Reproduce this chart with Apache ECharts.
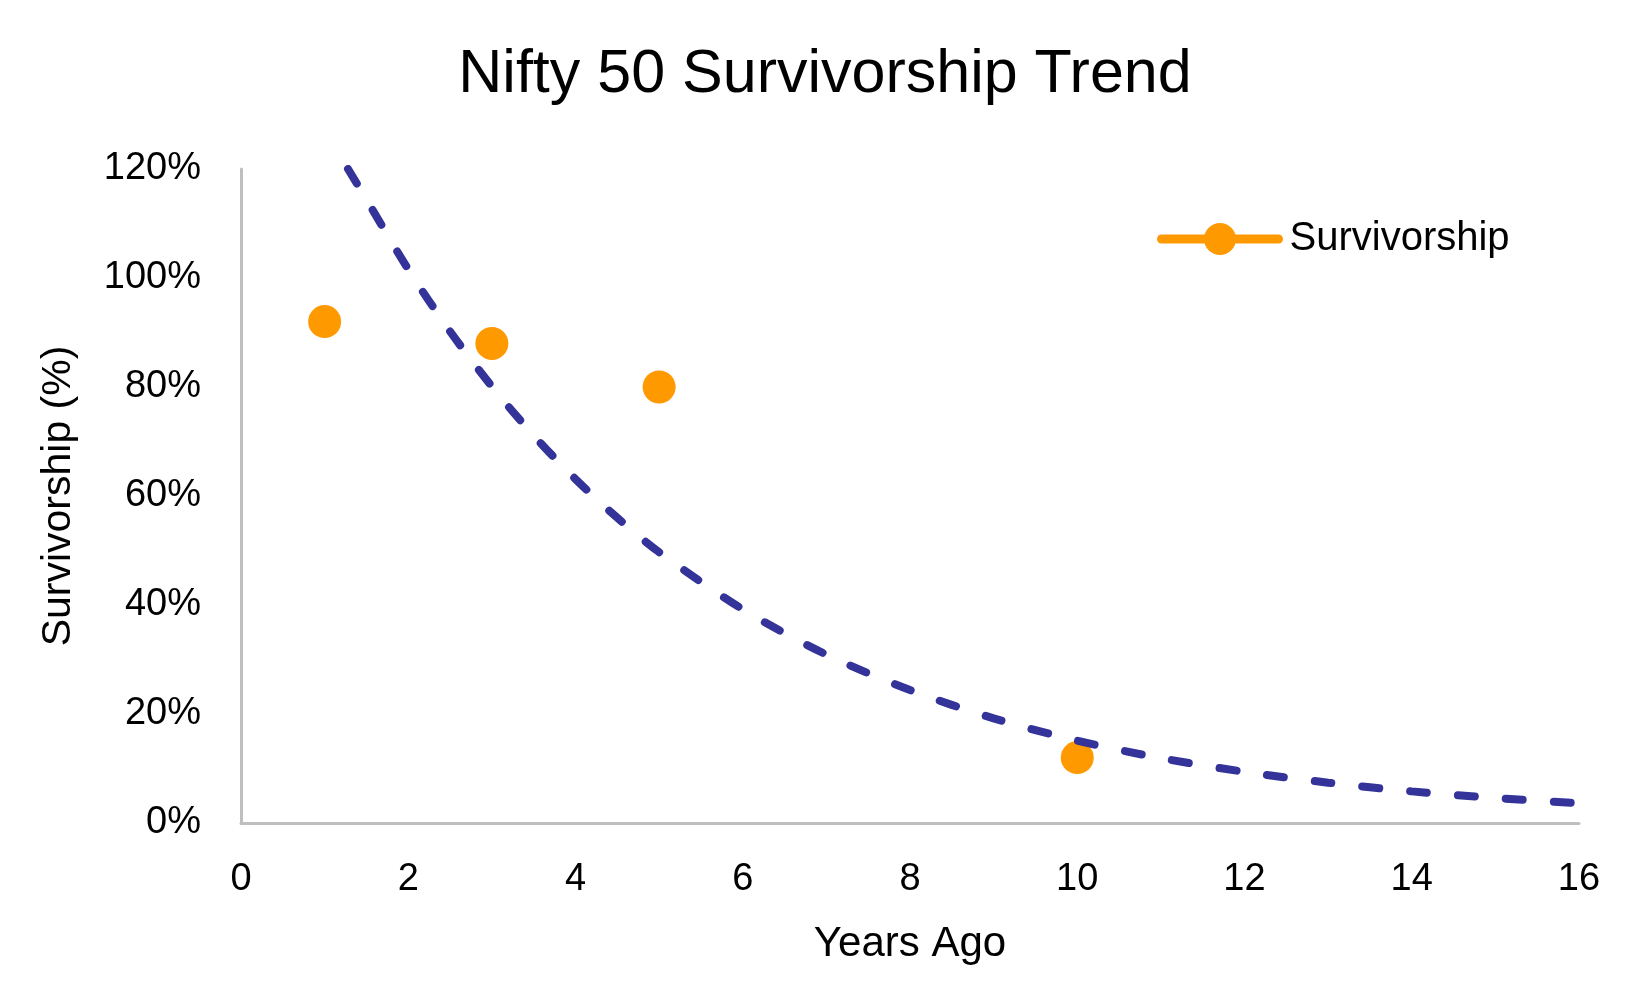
<!DOCTYPE html>
<html>
<head>
<meta charset="utf-8">
<script src="https://cdn.jsdelivr.net/npm/echarts@6/dist/echarts.min.js"></script>
<style>html,body{margin:0;padding:0;background:#fff}#c{width:1650px;height:990px}</style>
</head>
<body>
<div id="c"></div>
<script>
// Data
const yearsAgo = [1, 3, 5, 10];
const survivorship = [92, 88, 80, 12];
// Exponential trendline, values
const trendYears = [1.28, 1.5, 2, 2.5, 3, 3.5, 4, 4.5, 5, 6, 7, 8, 9, 10, 11, 12, 13, 14, 15, 16];
const trendValues = [120, 114.4, 101.6, 90.2, 80.1, 71.1, 63.1, 56.0, 49.7, 39.2, 30.9, 24.4, 19.2, 15.1, 11.9, 9.4, 7.4, 5.8, 4.6, 3.6];

const FONT = 'Liberation Sans';
const chart = echarts.init(document.getElementById('c'));
chart.setOption({
  backgroundColor: '#fff',
  animation: false,
  textStyle: { fontFamily: FONT },
  title: {
    text: 'Nifty 50 Survivorship Trend',
    left: 'center', top: 45, padding: 0,
    textStyle: { fontFamily: FONT, fontSize: 61, fontWeight: 'normal', color: '#000' }
  },
  legend: {
    data: ['Survivorship'],
    left: 1157, top: 219, padding: 0,
    itemWidth: 117, itemHeight: 40, itemGap: 10,
    textStyle: { fontFamily: FONT, fontSize: 40, color: '#000', padding: [0, 0, 0, 6] },
    lineStyle: { width: 9, opacity: 1, color: '#FF9900', cap: 'round' },
    itemStyle: { borderWidth: 0 }
  },
  grid: { left: 241, top: 169, width: 1338, height: 654, containLabel: false },
  xAxis: {
    type: 'value', min: 0, max: 16, interval: 2,
    name: 'Years Ago', nameLocation: 'middle', nameGap: 100,
    nameTextStyle: { fontFamily: FONT, fontSize: 42, color: '#000' },
    axisLine: { show: true, lineStyle: { color: '#BFBFBF', width: 3 } },
    axisTick: { show: false },
    splitLine: { show: false },
    axisLabel: { margin: 38, fontFamily: FONT, fontSize: 38, color: '#000' }
  },
  yAxis: {
    type: 'value', min: 0, max: 120, interval: 20,
    name: 'Survivorship (%)', nameLocation: 'middle', nameGap: 162, nameRotate: 90,
    nameTextStyle: { fontFamily: FONT, fontSize: 41, color: '#000' },
    axisLine: { show: true, lineStyle: { color: '#BFBFBF', width: 3 } },
    axisTick: { show: false },
    splitLine: { show: false },
    axisLabel: { margin: 40, fontFamily: FONT, fontSize: 38, color: '#000', formatter: '{value}%' }
  },
  series: [
    {
      name: 'Survivorship',
      type: 'line',
      data: yearsAgo.map((x, i) => [x, survivorship[i]]),
      symbol: 'circle', symbolSize: 33, showSymbol: true,
      itemStyle: { color: '#FF9900' },
      lineStyle: { width: 9, color: '#FF9900', opacity: 0 },
      z: 2
    },
    {
      name: 'Trend',
      type: 'line',
      data: trendYears.map((x, i) => [x, trendValues[i]]),
      showSymbol: false, symbol: 'none', smooth: 0.3,
      lineStyle: { color: '#333399', width: 8, type: [17, 31], cap: 'round' },
      silent: true,
      z: 3
    }
  ]
});
</script>
</body>
</html>
